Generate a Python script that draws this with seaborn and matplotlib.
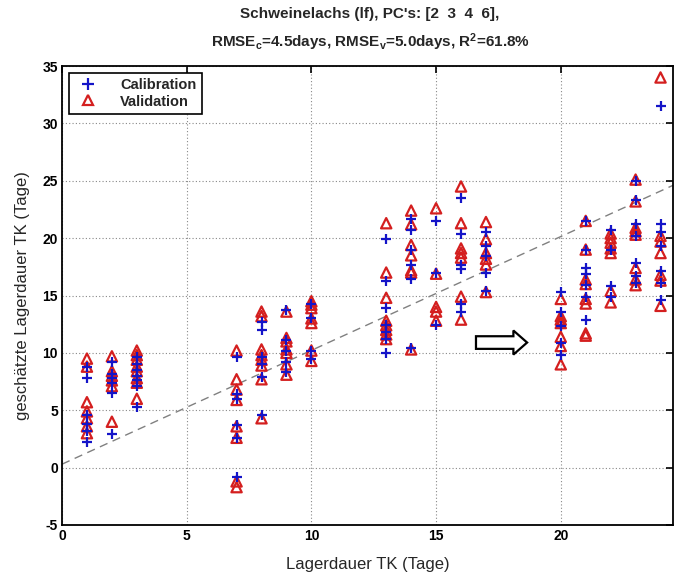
import numpy as np
import pandas as pd
import matplotlib
matplotlib.use("Agg")
import matplotlib.pyplot as plt
from matplotlib.lines import Line2D
from matplotlib.patches import FancyArrow
import seaborn as sns

# ---------------- data ----------------
cal_x = ([1]*6 + [2]*6 + [3]*7 + [7]*6 + [8]*6 + [9]*5 + [10]*4 +
         [13]*7 + [14]*6 + [15]*3 + [16]*6 + [17]*5 +
         [20]*5 + [21]*7 + [22]*4 + [23]*7 + [24]*7)
cal_y = [8.8, 7.8, 4.6, 3.8, 3.2, 2.2,
         9.2, 8.2, 7.8, 7.4, 6.5, 2.9,
         9.6, 9.0, 8.5, 8.0, 7.6, 7.1, 5.3,
         9.6, 6.4, 6.0, 3.7, 2.6, -0.8,
         12.7, 12.0, 9.6, 9.0, 7.9, 4.6,
         13.7, 11.1, 10.2, 9.2, 8.3,
         14.3, 13.0, 10.2, 9.5,
         19.9, 16.3, 13.9, 12.4, 11.8, 11.2, 10.0,
         21.7, 20.7, 19.0, 17.7, 16.4, 10.4,
         21.5, 17.0, 12.4,
         23.5, 20.4, 17.7, 17.3, 14.3, 13.6,
         20.5, 19.3, 18.4, 17.0, 15.4,
         15.3, 13.6, 12.3, 10.9, 9.8,
         21.5, 19.0, 17.4, 16.9, 15.9, 14.9, 12.9,
         20.7, 19.0, 15.8, 14.9,
         25.0, 23.3, 21.2, 20.2, 17.8, 16.7, 16.1,
         31.5, 21.2, 20.5, 19.3, 17.1, 16.1, 14.6]

val_x = ([1]*7 + [2]*6 + [3]*8 + [7]*8 + [8]*8 + [9]*7 + [10]*7 +
         [13]*8 + [14]*7 + [15]*5 + [16]*7 + [17]*6 +
         [20]*7 + [21]*8 + [22]*7 + [23]*8 + [24]*7)
val_y = [9.5, 8.8, 5.7, 4.9, 4.3, 3.6, 3.0,
         9.7, 8.4, 8.0, 7.6, 7.1, 4.0,
         10.2, 9.8, 9.4, 8.8, 8.4, 7.8, 7.4, 6.0,
         10.2, 7.7, 6.8, 5.9, 3.6, 2.6, -1.2, -1.7,
         13.6, 13.2, 10.3, 9.8, 9.4, 8.9, 7.7, 4.3,
         13.6, 11.3, 11.0, 10.3, 10.0, 9.0, 8.1,
         14.5, 14.2, 13.9, 13.0, 12.6, 10.2, 9.3,
         21.3, 17.0, 14.8, 12.8, 12.4, 12.0, 11.6, 11.2,
         22.4, 21.2, 19.4, 18.5, 17.2, 17.0, 10.3,
         22.6, 16.9, 14.0, 13.6, 12.8,
         24.5, 21.3, 19.1, 18.7, 18.3, 14.9, 12.9,
         21.4, 19.9, 18.7, 18.2, 17.7, 15.3,
         14.7, 13.2, 12.9, 12.6, 11.4, 10.6, 9.0,
         21.5, 19.0, 16.4, 16.0, 14.7, 14.3, 11.7, 11.5,
         20.4, 20.0, 19.6, 19.1, 18.7, 15.4, 14.4,
         25.1, 23.2, 20.9, 20.6, 20.3, 17.4, 16.4, 15.9,
         34.0, 20.2, 19.7, 18.7, 16.8, 16.3, 14.1]

fit_x = [0, 24.5]
fit_y = [0.3, 24.6]

x_ticks = [0, 5, 10, 15, 20]
y_ticks = [-5, 0, 5, 10, 15, 20, 25, 30, 35]

title_1 = "Schweinelachs (lf), PC's: [2  3  4  6],"
title_2 = r"RMSE$_\mathbf{c}$=4.5days, RMSE$_\mathbf{v}$=5.0days, R$^\mathbf{2}$=61.8%"
xlabel = "Lagerdauer TK (Tage)"
ylabel = "geschätzte Lagerdauer TK (Tage)"

# ---------------- style ----------------
sns.set_style("white")
plt.rcParams['font.family'] = ['Liberation Sans', 'DejaVu Sans']
plt.rcParams['mathtext.fontset'] = 'custom'
plt.rcParams['mathtext.rm'] = 'Liberation Sans'
plt.rcParams['mathtext.it'] = 'Liberation Sans'
plt.rcParams['mathtext.bf'] = 'Liberation Sans:bold'

BLUE = "#1414c8"
RED = "#d41f1f"

cal = pd.DataFrame({"x": cal_x, "y": cal_y})
val = pd.DataFrame({"x": val_x, "y": val_y})

fig = plt.figure(figsize=(6.75, 5.79), dpi=100)
ax = fig.add_axes([62/675, 1-525/579, (673-62)/675, (525-66)/579])

ax.plot(fit_x, fit_y, linestyle=(0, (6, 4)), color="#808080", linewidth=1.0, zorder=1)

sns.scatterplot(data=val, x="x", y="y", marker="^", s=55, facecolor="none",
                edgecolor=RED, color=RED, linewidth=1.6, ax=ax, zorder=3)
sns.scatterplot(data=cal, x="x", y="y", marker="+", s=60, color=BLUE,
                linewidth=1.6, ax=ax, zorder=4)

arrow = FancyArrow(16.6, 10.9, 1.5, 0, width=1.1, head_width=2.1,
                   head_length=0.55, length_includes_head=False,
                   facecolor="white", edgecolor="black", linewidth=1.6, zorder=5)
ax.add_patch(arrow)

ax.set_xlim(0, 24.5)
ax.set_ylim(-5, 35)
ax.set_xticks(x_ticks)
ax.set_yticks(y_ticks)
ax.set_xticklabels([str(t) for t in x_ticks], fontweight="bold", fontsize=10)
ax.set_yticklabels([str(t) for t in y_ticks], fontweight="bold", fontsize=10)
ax.tick_params(direction="in", length=5, width=1.2, top=True, right=True,
               pad=3, colors="black")
ax.grid(True, linestyle=(0, (1, 2)), color="#888888", linewidth=0.8)
for sp in ax.spines.values():
    sp.set_color("black")
    sp.set_linewidth(1.3)

ax.set_xlabel(xlabel, fontsize=12, labelpad=10)
ax.set_ylabel(ylabel, fontsize=12, labelpad=9)

handles = [Line2D([], [], marker="+", linestyle="none", color=BLUE,
                  markersize=8, markeredgewidth=1.6),
           Line2D([], [], marker="^", linestyle="none", markerfacecolor="none",
                  markeredgecolor=RED, markersize=7, markeredgewidth=1.6)]
leg = ax.legend(handles, ["Calibration", "Validation"], loc="upper left",
                frameon=True, fancybox=False, framealpha=1, edgecolor="black",
                borderaxespad=0.45, handletextpad=1.2, borderpad=0.35,
                labelspacing=0.2, prop={"size": 10.5, "weight": "bold"})
leg.get_frame().set_linewidth(1.2)

fig.text(370/675, 1-14/579, title_1, ha="center", va="center", fontsize=11,
         fontweight="bold")
fig.text(370/675, 1-42/579, title_2, ha="center", va="center", fontsize=11,
         fontweight="bold")

fig.savefig("out.png", dpi=100)
